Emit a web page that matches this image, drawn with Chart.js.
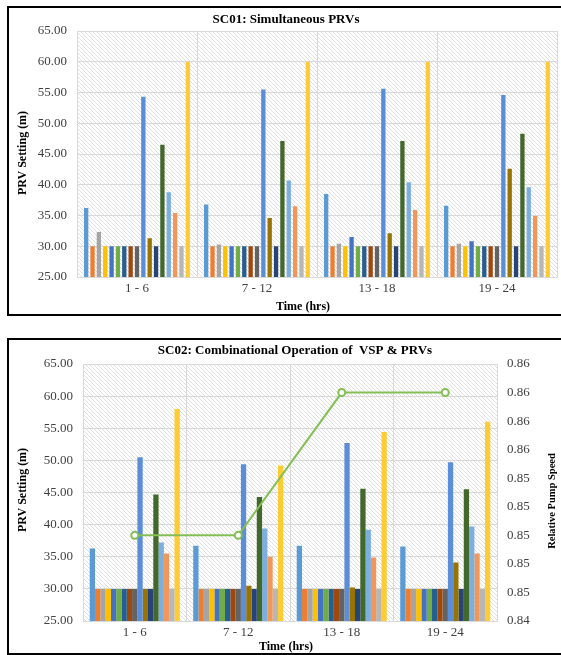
<!DOCTYPE html>
<html>
<head>
<meta charset="utf-8">
<script src="https://cdn.jsdelivr.net/npm/chart.js@4/dist/chart.umd.min.js"></script>
<style>
html,body{margin:0;padding:0;background:#fff;width:561px;height:655px;overflow:hidden;}
.box{position:absolute;border:2px solid #000;border-right:none;box-sizing:border-box;background:#fff;}
#b1{left:7px;top:6px;width:554px;height:310px;}
#b2{left:7px;top:338px;width:554px;height:317px;}
canvas{display:block;}
</style>
</head>
<body>
<div class="box" id="b1"><canvas id="c1" width="552" height="306"></canvas></div>
<div class="box" id="b2"><canvas id="c2" width="552" height="313"></canvas></div>
<script>
// ---------- DATA ----------
const categories = ['1 - 6', '7 - 12', '13 - 18', '19 - 24'];
const prvNames = ['PRV 1','PRV 2','PRV 3','PRV 4','PRV 5','PRV 6','PRV 7','PRV 8','PRV 9',
                  'PRV 10','PRV 11','PRV 12','PRV 13','PRV 14','PRV 15','PRV 16','PRV 17'];
const prvColors = ['#5B9BD5','#ED7D31','#A5A5A5','#FFC000','#4472C4','#70AD47','#255E91','#9E480E','#636363',
                   '#5B8ED6','#997300','#264478','#43682B','#7CAFDD','#F1975A','#B7B7B7','#FFCD33'];

// SC01: PRV settings (m) per time block, one value per PRV
const sc01_h01_06 = [36.2, 30, 32.3, 30, 30,   30, 30, 30, 30, 54.3, 31.3, 30, 46.5, 38.8, 35.4, 30, 60];
const sc01_h07_12 = [36.8, 30, 30.3, 30, 30,   30, 30, 30, 30, 55.5, 34.6, 30, 47.1, 40.7, 36.5, 30, 60];
const sc01_h13_18 = [38.5, 30, 30.4, 30, 31.5, 30, 30, 30, 30, 55.6, 32.1, 30, 47.1, 40.4, 35.9, 30, 60];
const sc01_h19_24 = [36.6, 30, 30.4, 30, 30.8, 30, 30, 30, 30, 54.6, 42.6, 30, 48.3, 39.6, 34.9, 30, 60];

// SC02: PRV settings (m) per time block
const sc02_h01_06 = [36.3, 30, 30, 30, 30, 30, 30, 30, 30, 50.5, 30,   30, 44.7, 37.2, 35.5, 30, 58.0];
const sc02_h07_12 = [36.7, 30, 30, 30, 30, 30, 30, 30, 30, 49.4, 30.5, 30, 44.3, 39.4, 35.0, 30, 49.2];
const sc02_h13_18 = [36.7, 30, 30, 30, 30, 30, 30, 30, 30, 52.7, 30.2, 30, 45.6, 39.2, 34.9, 30, 54.4];
const sc02_h19_24 = [36.6, 30, 30, 30, 30, 30, 30, 30, 30, 49.7, 34.1, 30, 45.5, 39.7, 35.5, 30, 56.0];
// SC02: relative pump speed per time block
const sc02_pumpSpeed = [0.85, 0.85, 0.86, 0.86];

// Tick values
const prvTicks = [25, 30, 35, 40, 45, 50, 55, 60, 65];
const pumpTicks = [0.844, 0.846, 0.848, 0.850, 0.852, 0.854, 0.856, 0.858, 0.860, 0.862];

// ---------- HELPERS ----------
Chart.defaults.font.family = "'Liberation Serif','Times New Roman',serif";
Chart.defaults.color = '#595959';
Chart.defaults.animation = false;

function makeHatch() {
  const p = document.createElement('canvas');
  p.width = 4; p.height = 4;
  const g = p.getContext('2d');
  g.fillStyle = '#ffffff'; g.fillRect(0, 0, 4, 4);
  g.fillStyle = '#dedede';
  for (let i = 0; i < 4; i++) g.fillRect(i, i, 1, 1);
  return p;
}
const hatchCanvas = makeHatch();

const hatchPlugin = {
  id: 'hatch',
  beforeDraw(chart) {
    const a = chart.chartArea, ctx = chart.ctx;
    ctx.save();
    ctx.fillStyle = ctx.createPattern(hatchCanvas, 'repeat');
    ctx.fillRect(a.left, a.top, a.right - a.left, a.bottom - a.top);
    ctx.restore();
  }
};

const textPlugin = {
  id: 'texts',
  afterDraw(chart, args, opts) {
    const ctx = chart.ctx;
    for (const t of opts.items) {
      ctx.save();
      ctx.fillStyle = t.color || '#000';
      ctx.font = t.font;
      ctx.textAlign = 'center';
      ctx.textBaseline = 'middle';
      ctx.translate(t.x, t.y);
      if (t.rot) ctx.rotate(t.rot);
      ctx.fillText(t.text, 0, 0);
      ctx.restore();
    }
  }
};

function buildBarSets(rows, extra) {
  return prvNames.map((name, i) => Object.assign({
    type: 'bar',
    label: name,
    data: rows.map(r => r[i]),
    backgroundColor: prvColors[i],
    borderWidth: 0,
    yAxisID: 'y',
    order: 1
  }, extra));
}

const gridCol = '#d9d9d9';
const tickFont = { size: 13, family: "'Liberation Serif','Times New Roman',serif" };

// ---------- CHART 1 ----------
new Chart(document.getElementById('c1'), {
  type: 'bar',
  data: {
    labels: categories,
    datasets: buildBarSets([sc01_h01_06, sc01_h07_12, sc01_h13_18, sc01_h19_24],
                           { categoryPercentage: 0.9, barPercentage: 0.68 })
  },
  options: {
    responsive: false,
    layout: { padding: { top: 23, right: 4, left: 0, bottom: 0 } },
    plugins: {
      legend: { display: false },
      tooltip: { enabled: false },
      texts: { items: [
        { text: 'SC01: Simultaneous PRVs', x: 277, y: 12, font: "bold 13px 'Liberation Serif'" },
        { text: 'Time (hrs)', x: 294, y: 299, font: "bold 12px 'Liberation Serif'" },
        { text: 'PRV Setting (m)', x: 14, y: 145, rot: -Math.PI / 2, font: "bold 12px 'Liberation Serif'" }
      ] }
    },
    scales: {
      x: {
        grid: { color: gridCol, drawTicks: false, offset: true },
        border: { color: gridCol },
        ticks: { font: tickFont, padding: 4, color: '#404040' },
        afterFit: s => { s.height = 37; }
      },
      y: {
        min: 25, max: 65,
        grid: { color: gridCol, drawTicks: false },
        border: { display: false },
        ticks: { font: tickFont, padding: 10, color: '#404040', callback: v => Number(v).toFixed(2) },
        afterBuildTicks: s => { s.ticks = prvTicks.map(v => ({ value: v })); },
        afterFit: s => { s.width = 68; }
      }
    }
  },
  plugins: [hatchPlugin, textPlugin]
});

// ---------- CHART 2 ----------
const sc02Sets = buildBarSets([sc02_h01_06, sc02_h07_12, sc02_h13_18, sc02_h19_24],
                              { categoryPercentage: 0.87, barPercentage: 1.0 });
sc02Sets.push({
  type: 'line',
  label: 'Relative Pump Speed',
  data: sc02_pumpSpeed,
  yAxisID: 'y2',
  borderColor: '#84BF55',
  borderWidth: 2,
  pointRadius: 3.5,
  pointBorderWidth: 2,
  pointBackgroundColor: '#ffffff',
  pointBorderColor: '#84BF55',
  fill: false,
  tension: 0,
  order: 0
});

new Chart(document.getElementById('c2'), {
  type: 'bar',
  data: { labels: categories, datasets: sc02Sets },
  options: {
    responsive: false,
    layout: { padding: { top: 24, right: 0, left: 0, bottom: 0 } },
    plugins: {
      legend: { display: false },
      tooltip: { enabled: false },
      texts: { items: [
        { text: 'SC02: Combinational Operation of  VSP & PRVs', x: 286, y: 11, font: "bold 13px 'Liberation Serif'" },
        { text: 'Time (hrs)', x: 277, y: 307, font: "bold 12px 'Liberation Serif'" },
        { text: 'PRV Setting (m)', x: 14, y: 150, rot: -Math.PI / 2, font: "bold 12px 'Liberation Serif'" },
        { text: 'Relative Pump Speed', x: 543, y: 161, rot: -Math.PI / 2, font: "bold 10.5px 'Liberation Serif'" }
      ] }
    },
    scales: {
      x: {
        grid: { color: gridCol, drawTicks: false, offset: true },
        border: { color: gridCol },
        ticks: { font: tickFont, padding: 4, color: '#404040' },
        afterFit: s => { s.height = 32; }
      },
      y: {
        position: 'left',
        min: 25, max: 65,
        grid: { color: gridCol, drawTicks: false },
        border: { display: false },
        ticks: { font: tickFont, padding: 10, color: '#404040', callback: v => Number(v).toFixed(2) },
        afterBuildTicks: s => { s.ticks = prvTicks.map(v => ({ value: v })); },
        afterFit: s => { s.width = 74; }
      },
      y2: {
        position: 'right',
        min: 0.844, max: 0.862,
        grid: { display: false, drawTicks: false },
        border: { display: false },
        ticks: { font: tickFont, padding: 10, color: '#404040', callback: v => Number(v).toFixed(2) },
        afterBuildTicks: s => { s.ticks = pumpTicks.map(v => ({ value: v })); },
        afterFit: s => { s.width = 64; }
      }
    }
  },
  plugins: [hatchPlugin, textPlugin]
});
</script>
</body>
</html>
